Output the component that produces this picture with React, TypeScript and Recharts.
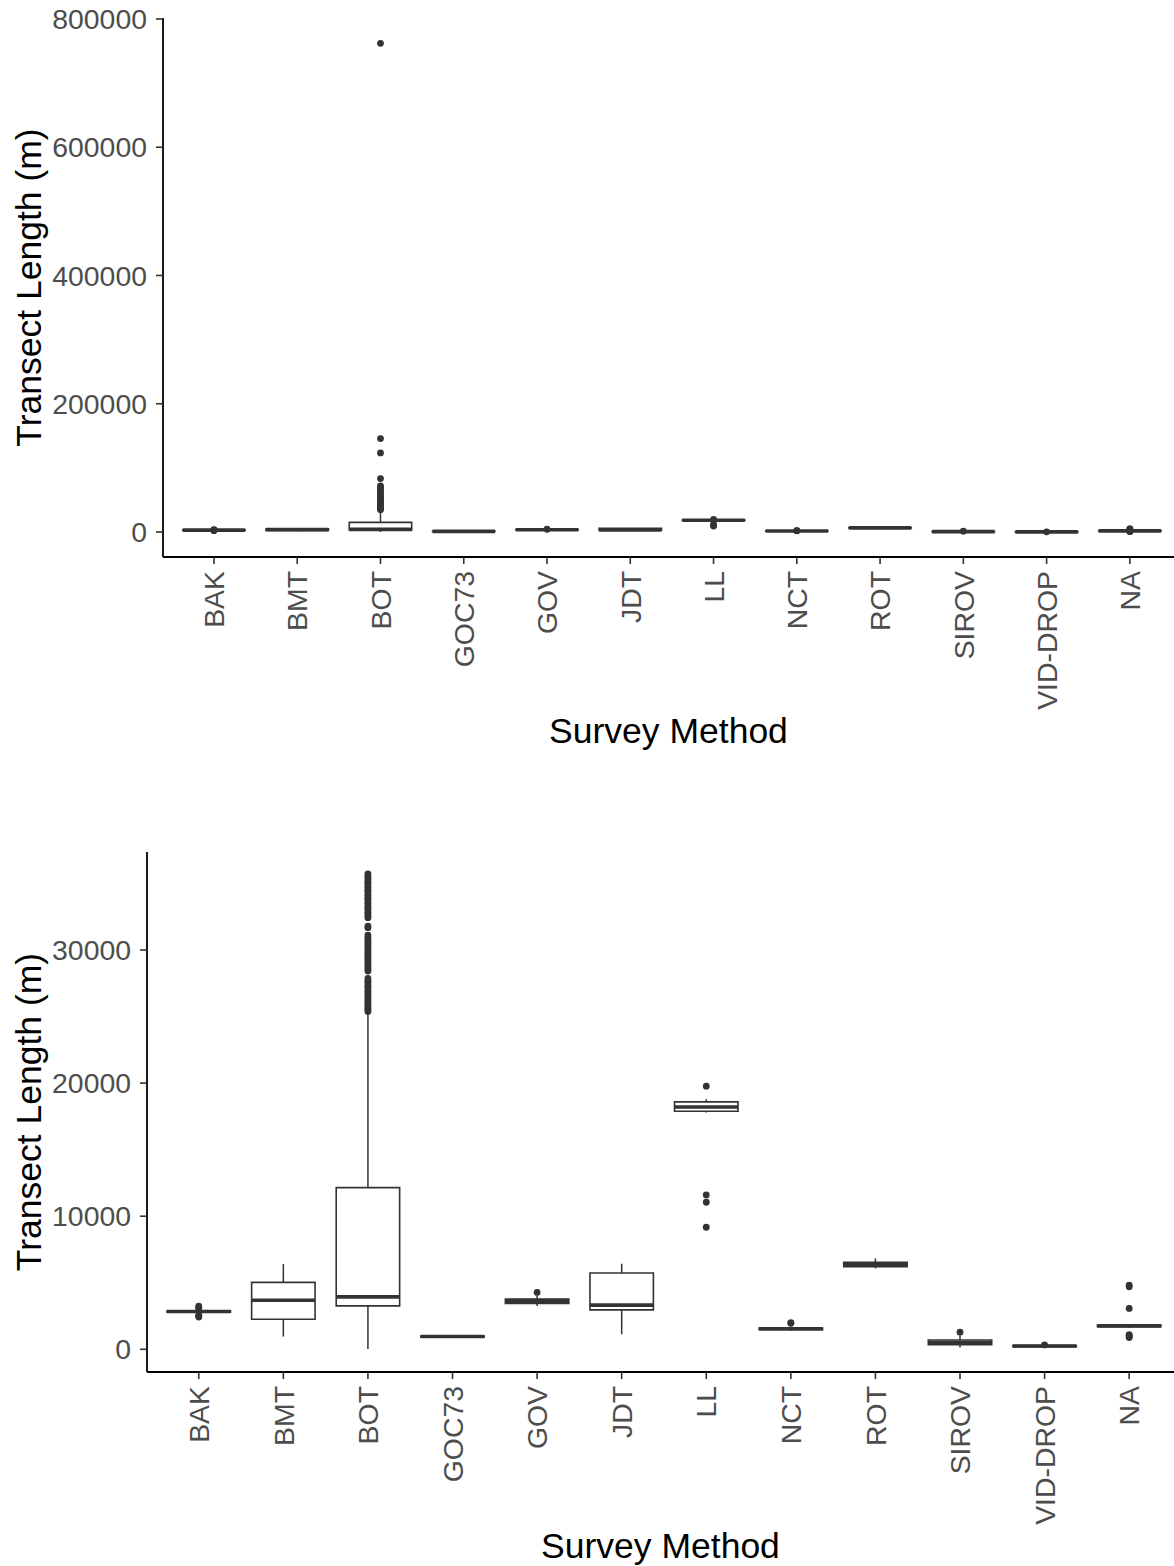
import { ComposedChart, ReferenceArea, ReferenceLine, Scatter, XAxis, YAxis } from 'recharts'

const categories = ['BAK', 'BMT', 'BOT', 'GOC73', 'GOV', 'JDT', 'LL', 'NCT', 'ROT', 'SIROV', 'VID-DROP', 'NA']

// transects under ~36 km (lower panel); only BOT changes in the full data
const lowWhisker = [2700, 960, 30, 880, 3260, 1130, 17790, 1400, 6080, 130, 150, 1600]
const q1 = [2780, 2260, 3260, 920, 3440, 2960, 17890, 1480, 6200, 350, 200, 1700]
const medians = [2840, 3690, 3940, 960, 3590, 3320, 18210, 1540, 6350, 500, 250, 1760]
const q3 = [2900, 5030, 12150, 1000, 3770, 5730, 18590, 1600, 6530, 700, 290, 1820]
const highWhisker = [2980, 6400, 25400, 1080, 4000, 6430, 18790, 1700, 6830, 1000, 350, 1900]

const outliers = [
  [2420, 2500, 2560, 3080, 3150, 3250],
  [],
  [25380, 25520, 25610, 25790, 25880, 26060, 26170, 26330, 26480, 26620, 26790, 26900, 27080, 27230, 27370, 27560, 27680, 27860,
    28420, 28530, 28710, 28840, 29020, 29130, 29310, 29470, 29580, 29760, 29890, 30070, 30180, 30360, 30510, 30640, 30820, 30930, 31120,
    31680, 31790, 32430, 32560, 32720, 32840, 33010, 33160, 33280, 33470, 33590, 33770, 33880, 34060, 34190, 34370, 34480, 34660, 34790,
    34970, 35090, 35260, 35410, 35560, 35720],
  [],
  [4270],
  [],
  [9170, 11050, 11600, 19770],
  [1950, 2010],
  [],
  [1280],
  [330],
  [880, 950, 1050, 1100, 3070, 4700, 4820],
]

// BOT in the full data: [low, q1, median, q3, high]
const botAllStats = [30, 3300, 4100, 15000, 32500]
const botAllOutliers = [34500, 36200, 37800, 39600, 41500, 43300, 45200, 47400, 49800, 52100, 54600, 57300, 60100, 63000, 66200, 69400, 71800,
  83300, 123300, 145700, 762000]

const topTicks = [0, 200000, 400000, 600000, 800000]
const bottomTicks = [0, 10000, 20000, 30000]

const GREY = '#333333'
const HALF = 0.375

function XTick({ x, y, payload }: any) {
  return (
    <text x={x} y={y} dy="0.36em" textAnchor="end" fill="#4D4D4D" fontSize={28.4} transform={`rotate(-90, ${x}, ${y})`}>
      {categories[payload.value]}
    </text>
  )
}

function BoxPanel({ stats, extra, domain, ticks, height, top, axisWidth, xAxisHeight }: any) {
  const [lo, a, m, b, hi] = stats
  const points = extra.flatMap((vals: number[], i: number) => vals.map((v) => ({ x: i, y: v })))
  return (
    <ComposedChart width={1174} height={height} margin={{ top, right: 0, bottom: 0, left: 0 }}>
      <XAxis
        type="number"
        dataKey="x"
        domain={[-0.612, 11.53]}
        allowDataOverflow
        ticks={categories.map((_, i) => i)}
        interval={0}
        tick={<XTick />}
        tickSize={7}
        tickMargin={7}
        height={xAxisHeight}
        axisLine={{ stroke: '#000', strokeWidth: 1.8 }}
        tickLine={{ stroke: GREY, strokeWidth: 1.6 }}
        label={(p: any) => (
          <text x={p.viewBox.x + p.viewBox.width / 2} y={p.viewBox.y + 174} textAnchor="middle" dominantBaseline="central" fontSize={35.5} fill="#000">
            Survey Method
          </text>
        )}
      />
      <YAxis
        type="number"
        dataKey="y"
        domain={domain}
        allowDataOverflow
        ticks={ticks}
        interval={0}
        width={axisWidth}
        tickSize={7}
        tickMargin={9}
        tick={{ fill: '#4D4D4D', fontSize: 28.4 }}
        axisLine={{ stroke: '#000', strokeWidth: 1.8 }}
        tickLine={{ stroke: GREY, strokeWidth: 1.6 }}
        label={(p: any) => (
          <text
            x={29}
            y={p.viewBox.y + p.viewBox.height / 2}
            textAnchor="middle"
            dominantBaseline="central"
            fontSize={35.5}
            fill="#000"
            transform={`rotate(-90, 29, ${p.viewBox.y + p.viewBox.height / 2})`}
          >
            Transect Length (m)
          </text>
        )}
      />
      {categories.map((c, i) => (
        <ReferenceLine key={`wu-${c}`} segment={[{ x: i, y: b[i] }, { x: i, y: hi[i] }]} stroke={GREY} strokeWidth={1.5} />
      ))}
      {categories.map((c, i) => (
        <ReferenceLine key={`wl-${c}`} segment={[{ x: i, y: lo[i] }, { x: i, y: a[i] }]} stroke={GREY} strokeWidth={1.5} />
      ))}
      {categories.map((c, i) => (
        <ReferenceArea key={`box-${c}`} x1={i - HALF} x2={i + HALF} y1={a[i]} y2={b[i]} fill="#fff" fillOpacity={1} stroke={GREY} strokeWidth={1.6} />
      ))}
      {categories.map((c, i) => (
        <ReferenceLine key={`md-${c}`} segment={[{ x: i - HALF, y: m[i] }, { x: i + HALF, y: m[i] }]} stroke={GREY} strokeWidth={3.6} />
      ))}
      <Scatter
        data={points}
        isAnimationActive={false}
        shape={(p: any) => <circle cx={p.cx} cy={p.cy} r={3.4} fill={GREY} />}
      />
    </ComposedChart>
  )
}

const withBot = (arr: number[], v: number) => arr.map((x, i) => (i === 2 ? v : x))

export default function App() {
  const allStats = [
    withBot(lowWhisker, botAllStats[0]),
    withBot(q1, botAllStats[1]),
    withBot(medians, botAllStats[2]),
    withBot(q3, botAllStats[3]),
    withBot(highWhisker, botAllStats[4]),
  ]
  const allOutliers = outliers.map((o, i) => (i === 2 ? botAllOutliers : o))
  return (
    <div style={{ position: 'absolute', left: 0, top: 0, width: 1174, height: 1566, background: '#fff', fontFamily: '"Liberation Sans", Arial, sans-serif' }}>
      <div style={{ position: 'absolute', left: 0, top: 0 }}>
        <BoxPanel
          stats={allStats}
          extra={allOutliers}
          domain={[-39000, 801500]}
          ticks={topTicks}
          height={780}
          top={18}
          axisWidth={163}
          xAxisHeight={223}
        />
      </div>
      <div style={{ position: 'absolute', left: 0, top: 800 }}>
        <BoxPanel
          stats={[lowWhisker, q1, medians, q3, highWhisker]}
          extra={outliers}
          domain={[-1705, 37363]}
          ticks={bottomTicks}
          height={766}
          top={52}
          axisWidth={147}
          xAxisHeight={194}
        />
      </div>
    </div>
  )
}
